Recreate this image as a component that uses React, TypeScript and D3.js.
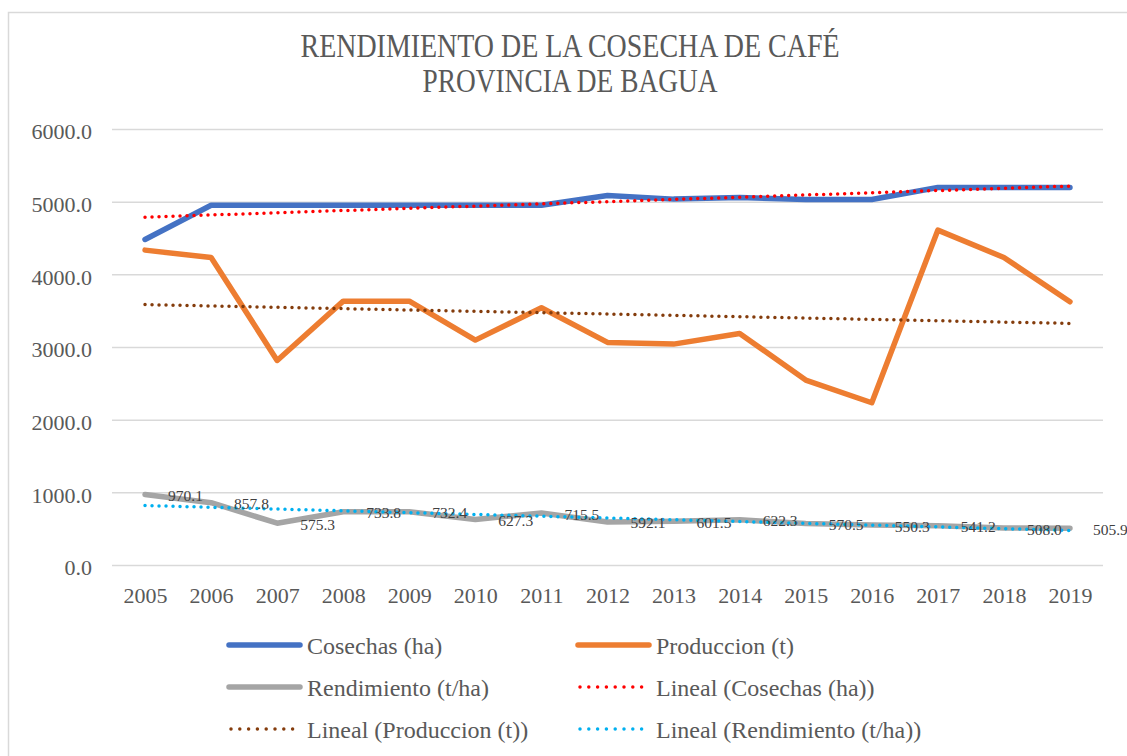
import React, { useEffect, useRef } from 'react'
import * as d3 from 'd3'

const years = ['2005', '2006', '2007', '2008', '2009', '2010', '2011', '2012', '2013', '2014', '2015', '2016', '2017', '2018', '2019']
const cosechas = [4480, 4950, 4950, 4950, 4950, 4950, 4950, 5085, 5035, 5058, 5030, 5030, 5195, 5195, 5195]
const produccion = [4333, 4232, 2815, 3631, 3631, 3095, 3540, 3063, 3040, 3187, 2545, 2233, 4608, 4232, 3622]
const rendimiento = [970.1, 857.8, 575.3, 733.8, 732.4, 627.3, 715.5, 592.1, 601.5, 622.3, 570.5, 550.3, 541.2, 508.0, 505.9]
const yTicks = [0, 1000, 2000, 3000, 4000, 5000, 6000]
const titleLines = ['RENDIMIENTO DE LA COSECHA  DE CAFÉ', 'PROVINCIA DE BAGUA']

const width = 1127
const height = 756
const left = 112
const right = 1103
const top = 129
const bottom = 565
const textColor = '#595959'
const font = 'Liberation Serif, Times New Roman, DejaVu Serif, serif'

// least squares fit, same as the Excel "Lineal" trendline
function trend(values: number[]) {
    const n = values.length
    const mx = (n - 1) / 2
    const my = d3.mean(values) as number
    let sxy = 0
    let sxx = 0
    values.forEach((v, i) => {
        sxy += (i - mx) * (v - my)
        sxx += (i - mx) * (i - mx)
    })
    const slope = sxy / sxx
    return values.map((_, i) => my + slope * (i - mx))
}

const series = [
    { name: 'Cosechas (ha)', values: cosechas, color: '#4472C4', dotted: false },
    { name: 'Produccion (t)', values: produccion, color: '#ED7D31', dotted: false },
    { name: 'Rendimiento (t/ha)', values: rendimiento, color: '#A5A5A5', dotted: false },
    { name: 'Lineal (Cosechas (ha))', values: trend(cosechas), color: '#FF0000', dotted: true },
    { name: 'Lineal (Produccion (t))', values: trend(produccion), color: '#843C0C', dotted: true },
    { name: 'Lineal (Rendimiento (t/ha))', values: trend(rendimiento), color: '#00B0F0', dotted: true },
]

function App() {
    const svgRef = useRef<SVGSVGElement>(null)

    useEffect(() => {
        const svg = d3.select(svgRef.current).style('font-family', font)
        svg.selectAll('*').remove()

        svg.append('rect')
            .attr('x', 8.5)
            .attr('y', 12.5)
            .attr('width', width + 10)
            .attr('height', height + 10)
            .attr('fill', '#fff')
            .attr('stroke', '#d9d9d9')
            .attr('stroke-width', 1.5)

        // title
        const titleY = [57, 92]
        const titleLen = [539, 295]
        svg.append('g')
            .selectAll('text')
            .data(titleLines)
            .join('text')
            .attr('x', 570)
            .attr('y', (d, i) => titleY[i])
            .attr('text-anchor', 'middle')
            .attr('textLength', (d, i) => titleLen[i])
            .attr('lengthAdjust', 'spacingAndGlyphs')
            .style('font-family', font)
            .attr('font-size', 34)
            .attr('fill', textColor)
            .text(d => d)

        const x = d3.scalePoint<string>().domain(years).range([left, right]).padding(0.5)
        const y = d3.scaleLinear().domain([0, 6000]).range([bottom, top])

        const yAxis = svg.append('g')
            .attr('transform', `translate(${left},0)`)
            .call(
                d3.axisLeft(y)
                    .tickValues(yTicks)
                    .tickSize(-(right - left))
                    .tickPadding(20)
                    .tickFormat(d3.format('.1f'))
            )
        yAxis.select('.domain').remove()
        yAxis.selectAll('line').attr('stroke', '#d9d9d9').attr('stroke-width', 1.5)
        yAxis.selectAll('text')
            .attr('dy', '0.45em')
            .style('font-family', font)
            .attr('font-size', 22)
            .attr('fill', textColor)

        const xAxis = svg.append('g')
            .attr('transform', `translate(0,${bottom})`)
            .call(d3.axisBottom(x).tickSize(0).tickPadding(22))
        xAxis.select('.domain').remove()
        xAxis.selectAll('text')
            .style('font-family', font)
            .attr('font-size', 22)
            .attr('fill', textColor)

        const line = d3.line<number>()
            .x((d, i) => x(years[i]) as number)
            .y(d => y(d))

        svg.append('g')
            .selectAll('path')
            .data(series)
            .join('path')
            .attr('d', d => line(d.values))
            .attr('fill', 'none')
            .attr('stroke', d => d.color)
            .attr('stroke-width', d => (d.dotted ? 3.5 : 5.5))
            .attr('stroke-linecap', 'round')
            .attr('stroke-linejoin', 'round')
            .attr('stroke-dasharray', d => (d.dotted ? '0 7' : null))

        // data labels for Rendimiento
        svg.append('g')
            .selectAll('text')
            .data(rendimiento)
            .join('text')
            .attr('x', (d, i) => (x(years[i]) as number) + 23)
            .attr('y', d => y(d) + 1)
            .attr('dominant-baseline', 'central')
            .style('font-family', font)
            .attr('font-size', 15.5)
            .attr('fill', '#404040')
            .text(d => d3.format('.1f')(d))

        // legend
        const legendX = [229, 578]
        const legendY = [645, 687, 729]
        const legend = svg.append('g')
            .selectAll('g')
            .data(series)
            .join('g')
            .attr('transform', (d, i) => `translate(${legendX[i % 2]},${legendY[Math.floor(i / 2)]})`)

        legend.append('line')
            .attr('x1', d => (d.dotted ? 2 : 0))
            .attr('x2', 71)
            .attr('stroke', d => d.color)
            .attr('stroke-width', d => (d.dotted ? 3.5 : 5.5))
            .attr('stroke-linecap', 'round')
            .attr('stroke-dasharray', d => (d.dotted ? '0 8.8' : null))

        legend.append('text')
            .attr('x', 78)
            .attr('y', 9)
            .style('font-family', font)
            .attr('font-size', 24)
            .attr('fill', textColor)
            .text(d => d.name)
    }, [])

    return (
        <svg
            ref={svgRef}
            width={width}
            height={height}
            style={{ position: 'absolute', left: 0, top: 0, background: '#fff' }}
        ></svg>
    )
}

export default App
